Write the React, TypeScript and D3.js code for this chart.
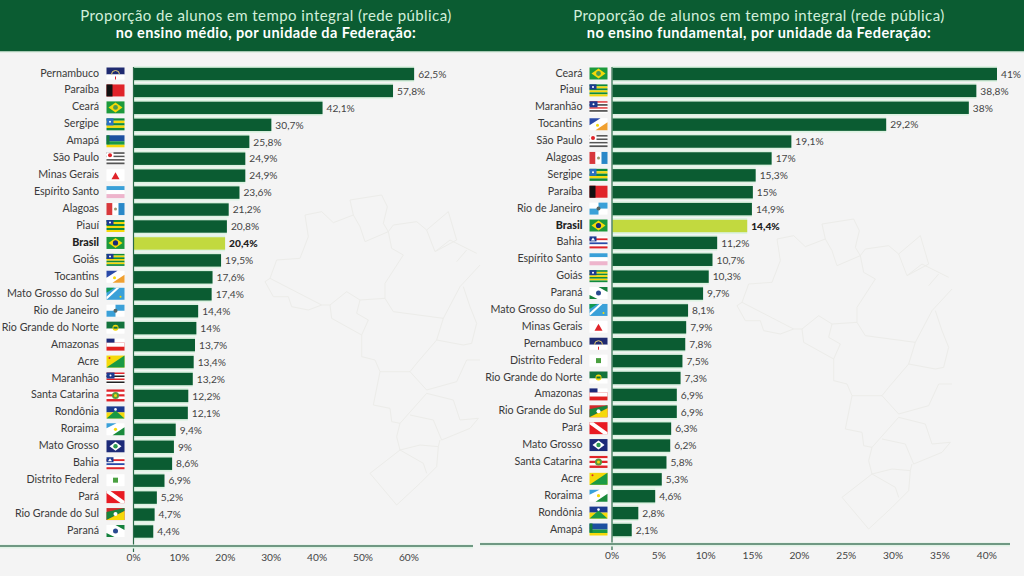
import React from "react";
import * as d3 from "d3";

const medioStates = ["Pernambuco","Paraíba","Ceará","Sergipe","Amapá","São Paulo","Minas Gerais","Espírito Santo","Alagoas","Piauí","Brasil","Goiás","Tocantins","Mato Grosso do Sul","Rio de Janeiro","Rio Grande do Norte","Amazonas","Acre","Maranhão","Santa Catarina","Rondônia","Roraima","Mato Grosso","Bahia","Distrito Federal","Pará","Rio Grande do Sul","Paraná"];
const medioValues = [62.5,57.8,42.1,30.7,25.8,24.9,24.9,23.6,21.2,20.8,20.4,19.5,17.6,17.4,14.4,14,13.7,13.4,13.2,12.2,12.1,9.4,9,8.6,6.9,5.2,4.7,4.4];
const fundStates = ["Ceará","Piauí","Maranhão","Tocantins","São Paulo","Alagoas","Sergipe","Paraíba","Rio de Janeiro","Brasil","Bahia","Espírito Santo","Goiás","Paraná","Mato Grosso do Sul","Minas Gerais","Pernambuco","Distrito Federal","Rio Grande do Norte","Amazonas","Rio Grande do Sul","Pará","Mato Grosso","Santa Catarina","Acre","Roraima","Rondônia","Amapá"];
const fundValues = [41,38.8,38,29.2,19.1,17,15.3,15,14.9,14.4,11.2,10.7,10.3,9.7,8.1,7.9,7.8,7.5,7.3,6.9,6.9,6.3,6.2,5.8,5.3,4.6,2.8,2.1];
const medioTicks = [0,10,20,30,40,50,60];
const fundTicks = [0,5,10,15,20,25,30,35,40];
const titleTop = "Proporção de alunos em tempo integral (rede pública)";
const titleMedio = "no ensino médio, por unidade da Federação:";
const titleFund = "no ensino fundamental, por unidade da Federação:";

const mapLines = [
"60,265 80,210 150,205 175,140 165,75 215,65 250,98 310,75 300,30 395,15 412,50 400,100 415,125",
"415,125 345,155 330,110 310,75",
"415,125 430,105 500,95 530,120 595,65 620,150 555,185 530,120",
"415,125 425,175 460,195 405,280",
"555,185 600,150 680,190",
"620,215 650,180",
"60,265 45,275 70,320 115,320 125,350 175,360 215,345 60,265",
"215,345 240,345 290,305 330,330 405,325 405,280",
"405,325 430,365 580,385 630,290 690,225",
"240,345 245,385 335,435 355,390 320,370 330,330",
"335,435 335,500 375,510 390,545 480,545",
"580,385 560,450 500,520 480,545 530,600 620,575 650,510 690,510",
"560,450 640,465 665,460 680,400 660,350 640,290",
"390,545 370,645 420,655 425,695 450,700 530,610",
"530,610 610,630 630,690 685,685 660,715 575,750 550,690 480,675",
"450,700 440,740 450,780 510,765 565,770 570,750",
"450,780 360,850 440,945 510,880 560,830 565,770",
"450,780 520,820 530,850",
];

const G = "#0f8a3c", Y = "#f5d90a", B = "#1a2a78", R = "#e0242a", W = "#ffffff", LB = "#3aa0d8";

function Flag({ name }: { name: string }) {
  const S = (y: number, h: number, c: string, x = 0, w = 18) => <rect x={x} y={y} width={w} height={h} fill={c} />;
  const stripes = (cols: string[]) => cols.map((c, i) => <React.Fragment key={i}>{S(i * 12 / cols.length, 12 / cols.length, c)}</React.Fragment>);
  switch (name) {
    case "Pernambuco": return <>{S(0,7,"#1f2a70")}{S(7,5,W)}<path d="M5 7 A4 4 0 0 1 13 7" fill="none" stroke="#e8d070" strokeWidth="1"/><rect x="8.5" y="9" width="1" height="3" fill={R}/></>;
    case "Paraíba": return <>{S(0,12,R)}{S(0,12,"#111",0,6)}</>;
    case "Ceará": return <>{S(0,12,"#1c9a3c")}<path d="M2 6 L9 1 L16 6 L9 11Z" fill={Y}/><circle cx="9" cy="6" r="2.4" fill="#4f9a50"/></>;
    case "Sergipe": return <>{stripes([G,Y,G,Y,G])}{S(0,7,"#2a6fc0",0,7)}<circle cx="3.5" cy="3.5" r="1" fill={W}/></>;
    case "Amapá": return <>{S(0,6,"#1c4fa0")}{S(6,3.5,"#1a9a44")}{S(9.5,2.5,Y)}<path d="M0 0 H3 V9 H0Z" fill="#137a3c"/></>;
    case "São Paulo": return <>{stripes(["#555",W,"#555",W,"#555",W,"#555"])}{S(0,6,W,0,7)}<circle cx="3.5" cy="3" r="2" fill={R}/></>;
    case "Minas Gerais": return <>{S(0,12,"#fff")}<path d="M9 3 L13 10 H5Z" fill={R}/></>;
    case "Espírito Santo": return <>{S(0,4,LB)}{S(4,4,W)}{S(8,4,"#eeb4cc")}</>;
    case "Alagoas": return <>{S(0,12,"#d8383c",0,6)}{S(0,12,W,6,6)}{S(0,12,"#2a88c8",12,6)}<circle cx="9" cy="6" r="1.5" fill="#9a9a70"/></>;
    case "Piauí": return <>{stripes([G,Y,G,Y,G,Y])}{S(0,5,"#1c3a90",0,7)}<circle cx="3.5" cy="2.5" r="1" fill={W}/></>;
    case "Brasil": return <>{S(0,12,"#1c9a3c")}<path d="M2 6 L9 1 L16 6 L9 11Z" fill={Y}/><circle cx="9" cy="6" r="2.6" fill="#1a2a78"/></>;
    case "Goiás": return <>{stripes([G,Y,G,Y,G,Y,G])}{S(0,5,"#1c3a90",0,7)}<circle cx="3.5" cy="2.5" r="1" fill={W}/></>;
    case "Tocantins": return <>{S(0,12,W)}<path d="M0 0 H11 L0 7Z" fill="#2a4aa8"/><path d="M18 4 V12 H6Z" fill="#f0a030"/><circle cx="8" cy="7" r="1.5" fill={Y}/></>;
    case "Mato Grosso do Sul": return <>{S(0,12,LB)}<path d="M0 12 V5 L8 0 H0Z" fill="#139a50"/><path d="M0 12 L13 0 H10 L0 9Z" fill={W}/><circle cx="14" cy="9" r="1" fill={Y}/></>;
    case "Rio de Janeiro": return <>{S(0,12,W)}<path d="M9 0 H18 V6 H9Z" fill={LB}/><path d="M0 6 H9 V12 H0Z" fill={LB}/><circle cx="9" cy="6" r="2" fill="#566"/></>;
    case "Rio Grande do Norte": return <>{S(0,7,"#13733c")}{S(7,5,W)}<circle cx="9" cy="6" r="3" fill={Y}/><rect x="7" y="5" width="4" height="2" fill="#13733c"/></>;
    case "Amazonas": return <>{S(0,4,W)}{S(4,4,R)}{S(8,4,"#e02020")}{S(4,4,W)}{S(0,4,"#1c2a78",0,8)}</>;
    case "Acre": return <>{S(0,12,Y)}<path d="M18 0 V12 H0Z" fill="#1a9a44"/><circle cx="3" cy="2.5" r="1" fill={R}/></>;
    case "Maranhão": return <>{stripes([R,W,"#222",W,R,W,"#222",W])}{S(0,6,"#1c3a90",0,8)}<circle cx="4" cy="3" r="1" fill={W}/></>;
    case "Santa Catarina": return <>{stripes([R,W,R,W,R])}<circle cx="9" cy="6" r="3.5" fill="#5a9a3c"/><circle cx="9" cy="6" r="1.5" fill={Y}/></>;
    case "Rondônia": return <>{S(0,6,"#1c3a90")}{S(6,6,Y)}<path d="M9 4 L18 12 H0Z" fill="#1a9a44"/><circle cx="9" cy="3" r="1.3" fill={W}/></>;
    case "Roraima": return <>{S(0,12,W)}<path d="M0 0 H10 L0 5Z" fill={LB}/><path d="M18 4 V12 H6Z" fill="#1a8a3c"/><circle cx="9" cy="6" r="1.6" fill={Y}/></>;
    case "Mato Grosso": return <>{S(0,12,"#1c2a78")}<path d="M3 6 L9 1.5 L15 6 L9 10.5Z" fill={W}/><circle cx="9" cy="6" r="2.2" fill="#2a9a50"/></>;
    case "Bahia": return <>{stripes([W,R,W,"#2a4aa8",W,R])}{S(0,5,"#1c3a90",0,7)}<path d="M3.5 1 L5.5 4 H1.5Z" fill={W}/></>;
    case "Distrito Federal": return <>{S(0,12,W)}<rect x="6.5" y="3.5" width="5" height="5" fill="#4aa040"/></>;
    case "Pará": return <>{S(0,12,"#e81a22")}<path d="M0 0 H4 L18 10 V12 H14 L0 2Z" fill={W}/></>;
    case "Rio Grande do Sul": return <>{S(0,12,"#d02a2a")}<path d="M0 12 V4 L18 0 V3Z" fill="#18853c"/><path d="M0 12 L18 3 V12Z" fill={Y}/><circle cx="9" cy="6" r="2" fill={W}/></>;
    case "Paraná": return <>{S(0,12,W)}<path d="M0 12 V8 L8 12Z M18 0 V5 L9 0Z" fill="#13803c"/><circle cx="9" cy="6" r="2.5" fill="#2a4a90"/></>;
    default: return null;
  }
}

type PanelProps = {
  states: string[]; values: number[]; ticks: number[];
  x0: number; barScale: number; tickScale: number; yFirst: number; yLast: number;
  lineY: number; lineX: [number, number]; flagX: number; labelX: number; tickY: number;
  subtitle: string; titleX: number;
};

function Panel(p: PanelProps) {
  const n = p.states.length;
  const maxV = d3.max(p.values) as number;
  const xBar = d3.scaleLinear().domain([0, maxV]).range([p.x0, p.x0 + maxV * p.barScale]);
  const xTick = d3.scaleLinear().domain([0, 60]).range([p.x0, p.x0 + 60 * p.tickScale]);
  const step = (p.yLast - p.yFirst) / (n - 1);
  const y = d3.scalePoint<string>().domain(p.states).range([p.yFirst, p.yFirst + step * (n - 1)]);
  const font = "Lato, sans-serif";
  return (
    <g fontFamily={font}>
      <text x={p.titleX} y={21} textAnchor="middle" fontSize={15} letterSpacing={0.42} fill="#d2efdb">{titleTop}</text>
      <text x={p.titleX} y={38} textAnchor="middle" fontSize={14.5} fontWeight={700} letterSpacing={0.42} fill="#ffffff">{p.subtitle}</text>
      {p.states.map((s, i) => {
        const cy = y(s) as number;
        const v = p.values[i];
        const br = s === "Brasil";
        return (
          <g key={s}>
            <rect x={p.x0} y={cy - 7.9} width={xBar(v) - p.x0} height={15.8} fill="#dcf2e1" />
            <rect x={p.x0 + 0.5} y={cy - 6.2} width={xBar(v) - p.x0 - 0.5} height={12.4} fill={br ? "#c2d93f" : "#0b5c32"} />
            <text x={p.labelX} y={cy - 1.2} dy="0.35em" textAnchor="end" fontSize={10.7} fontWeight={br ? 900 : 400} fill={br ? "#222" : "#3a3a3a"}>{s}</text>
            <g transform={`translate(${p.flagX},${cy - 6.5})`}><Flag name={s} /></g>
            <text x={xBar(v) + 4} y={cy + 0.2} dy="0.35em" fontSize={10.2} fontWeight={br ? 900 : 400} fill={br ? "#222" : "#444"}>{String(v).replace(".", ",")}%</text>
          </g>
        );
      })}
      <line x1={p.x0} x2={p.x0} y1={67} y2={p.lineY + 6} stroke="#2a6a48" strokeWidth={1.2} />
      <rect x={p.lineX[0]} y={p.lineY - 1.5} width={p.lineX[1] - p.lineX[0]} height={4} fill="#e0f2e5" />
      <line x1={p.lineX[0]} x2={p.lineX[1]} y1={p.lineY} y2={p.lineY} stroke="#4a7a62" strokeWidth={1.6} />
      {p.ticks.map(t => (
        <text key={t} x={xTick(t)} y={p.tickY} dy="0.35em" textAnchor="middle" fontSize={10.2} fill="#444">{t}%</text>
      ))}
    </g>
  );
}

function BrazilMap({ tx, ty }: { tx: number; ty: number }) {
  return (
    <g transform={`translate(${tx},${ty}) scale(${1 / 3})`} fill="none" stroke="#ecece9" strokeWidth={3} strokeLinejoin="round">
      {mapLines.map((d, i) => <polyline key={i} points={d} />)}
    </g>
  );
}

export default function App() {
  return (
    <svg width={1024} height={576} style={{ position: "fixed", left: 0, top: 0, display: "block" }}>
      <rect width={1024} height={576} fill="#f4f4f4" />
      <rect x={0} y={0} width={1024} height={51.5} fill="#0b5c32" />
      <rect x={0} y={51.5} width={1024} height={1} fill="#cfe8d6" />
      <BrazilMap tx={250} ty={190} />
      <BrazilMap tx={722} ty={214} />
      <Panel states={medioStates} values={medioValues} ticks={medioTicks} x0={133.5} barScale={4.49} tickScale={4.59}
        yFirst={74} yLast={531.5} lineY={546} lineX={[0, 473]} flagX={106.5} labelX={99} tickY={557.5}
        subtitle={titleMedio} titleX={266} />
      <Panel states={fundStates} values={fundValues} ticks={fundTicks} x0={612} barScale={9.39} tickScale={9.37}
        yFirst={74} yLast={530} lineY={544} lineX={[480, 1010]} flagX={589.5} labelX={582.5} tickY={555.5}
        subtitle={titleFund} titleX={759} />
    </svg>
  );
}
